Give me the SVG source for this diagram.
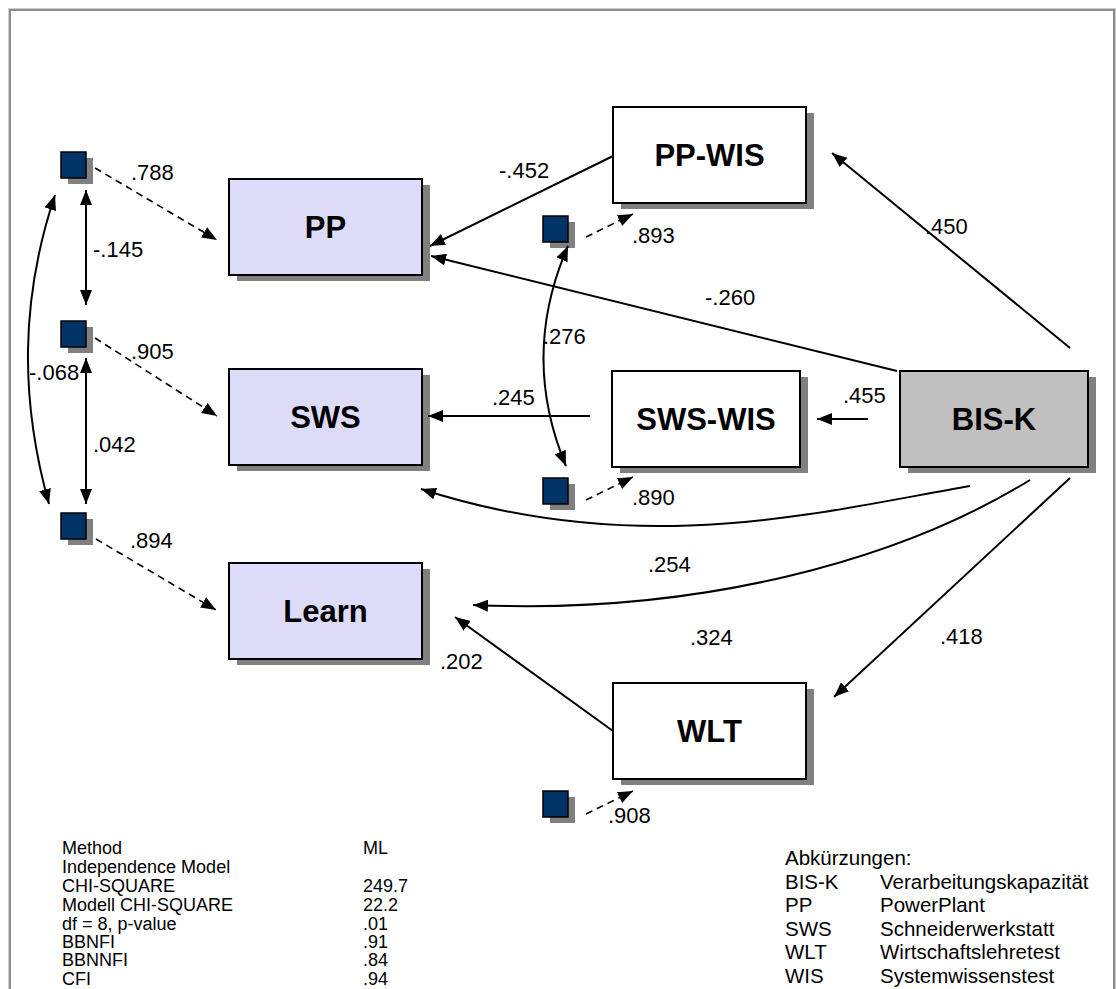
<svg xmlns="http://www.w3.org/2000/svg" width="1116" height="989" viewBox="0 0 1116 989">
  <style>
    .box { stroke: #000; stroke-width: 2; }
    .shadow { fill: #808080; }
    .obs { fill: #dcdcf8; }
    .mid { fill: #ffffff; }
    .src { fill: #c0c0c0; }
    .err { fill: #003366; stroke: #000; stroke-width: 1.5; }
    .name { font-family: "Liberation Sans", Arial, sans-serif; font-weight: bold; font-size: 31px; text-anchor: middle; fill: #000; }
    .coef { font-family: "Liberation Sans", Arial, sans-serif; font-size: 22px; fill: #000; }
    .note { font-family: "Liberation Sans", Arial, sans-serif; font-size: 18px; fill: #000; }
    .abbr { font-family: "Liberation Sans", Arial, sans-serif; font-size: 20.5px; fill: #000; }
    .path { fill: none; stroke: #000; stroke-width: 2; }
    .dash { fill: none; stroke: #000; stroke-width: 1.6; stroke-dasharray: 7 5; }
  </style>
  <defs>
    <marker id="ah" viewBox="0 0 15 12" refX="15" refY="6" markerWidth="15" markerHeight="12" markerUnits="userSpaceOnUse" orient="auto-start-reverse">
      <path d="M0,0 L15,6 L0,12 z" fill="#000"/>
    </marker>
  </defs>

  <rect width="1116" height="989" fill="#ffffff"/>
  <!-- outer frame -->
  <rect x="8.5" y="8.5" width="1107" height="1100" fill="none" stroke="#d0d0d0" stroke-width="1"/>
  <rect x="10" y="10" width="1104" height="1100" fill="none" stroke="#8c8c8c" stroke-width="2"/>

  <!-- error terms -->
  <g id="e-pp"><rect class="shadow" x="68" y="158" width="25" height="26"/><rect class="err" x="61" y="152" width="25" height="26"/></g>
  <g id="e-sws"><rect class="shadow" x="68" y="327" width="25" height="26"/><rect class="err" x="61" y="321" width="25" height="26"/></g>
  <g id="e-learn"><rect class="shadow" x="68" y="519" width="25" height="26"/><rect class="err" x="61" y="513" width="25" height="26"/></g>
  <g id="e-ppwis"><rect class="shadow" x="550" y="222" width="25" height="26"/><rect class="err" x="543" y="216" width="25" height="26"/></g>
  <g id="e-swswis"><rect class="shadow" x="550" y="484" width="25" height="26"/><rect class="err" x="543" y="478" width="25" height="26"/></g>
  <g id="e-wlt"><rect class="shadow" x="550" y="797" width="25" height="26"/><rect class="err" x="543" y="791" width="25" height="26"/></g>

  <!-- variables -->
  <g id="PP">
    <rect class="shadow" x="237" y="185" width="193" height="96"/>
    <rect class="box obs" x="229" y="179" width="193" height="96"/>
    <text class="name" x="325.5" y="238">PP</text>
  </g>
  <g id="SWS">
    <rect class="shadow" x="237" y="375" width="193" height="96"/>
    <rect class="box obs" x="229" y="369" width="193" height="96"/>
    <text class="name" x="325.5" y="428">SWS</text>
  </g>
  <g id="Learn">
    <rect class="shadow" x="237" y="569" width="193" height="96"/>
    <rect class="box obs" x="229" y="563" width="193" height="96"/>
    <text class="name" x="325.5" y="622">Learn</text>
  </g>
  <g id="PP-WIS">
    <rect class="shadow" x="621" y="113" width="193" height="96"/>
    <rect class="box mid" x="613" y="107" width="193" height="96"/>
    <text class="name" x="709.5" y="166">PP-WIS</text>
  </g>
  <g id="SWS-WIS">
    <rect class="shadow" x="620" y="377" width="188" height="96"/>
    <rect class="box mid" x="612" y="371" width="188" height="96"/>
    <text class="name" x="706" y="430">SWS-WIS</text>
  </g>
  <g id="BIS-K">
    <rect class="shadow" x="908" y="377" width="188" height="96"/>
    <rect class="box src" x="900" y="371" width="188" height="96"/>
    <text class="name" x="994" y="430">BIS-K</text>
  </g>
  <g id="WLT">
    <rect class="shadow" x="621" y="689" width="193" height="96"/>
    <rect class="box mid" x="613" y="683" width="193" height="96"/>
    <text class="name" x="709.5" y="742">WLT</text>
  </g>

  <!-- paths -->
  <g id="connectors">
    <path class="path" d="M613,156 L430,246" marker-end="url(#ah)"/>
    <path class="path" d="M897,371 L431,256" marker-end="url(#ah)"/>
    <path class="path" d="M1070,348 L832,153" marker-end="url(#ah)"/>
    <path class="path" d="M868,419 L817,419" marker-end="url(#ah)"/>
    <path class="path" d="M590,416 L428,416" marker-end="url(#ah)"/>
    <path class="path" d="M970,486 C820,512 640,560 421,489" marker-end="url(#ah)"/>
    <path class="path" d="M1030,480 C900,560 700,615 473,605" marker-end="url(#ah)"/>
    <path class="path" d="M1070,478 L834,697" marker-end="url(#ah)"/>
    <path class="path" d="M613,731 L455,617" marker-end="url(#ah)"/>

    <path class="dash" d="M95,168 L217,240" marker-end="url(#ah)"/>
    <path class="dash" d="M95,338 L217,416" marker-end="url(#ah)"/>
    <path class="dash" d="M96,539 L216,610" marker-end="url(#ah)"/>
    <path class="dash" d="M586,237 L633,214" marker-end="url(#ah)"/>
    <path class="dash" d="M586,500 L633,477" marker-end="url(#ah)"/>
    <path class="dash" d="M586,814 L633,791" marker-end="url(#ah)"/>

    <path class="path" d="M86,190 L86,305" marker-start="url(#ah)" marker-end="url(#ah)"/>
    <path class="path" d="M86,358 L86,504" marker-start="url(#ah)" marker-end="url(#ah)"/>
    <path class="path" d="M55,195 C20,300 20,400 49,504" marker-start="url(#ah)" marker-end="url(#ah)"/>
    <path class="path" d="M568,246 Q520,356 566,466" marker-start="url(#ah)" marker-end="url(#ah)"/>
  </g>

  <!-- coefficients -->
  <g id="coefficients">
    <text class="coef" x="131" y="180">.788</text>
    <text class="coef" x="93" y="257">-.145</text>
    <text class="coef" x="131" y="359">.905</text>
    <text class="coef" x="93" y="452">.042</text>
    <text class="coef" x="130" y="548">.894</text>
    <text class="coef" x="29" y="380">-.068</text>
    <text class="coef" x="499" y="178">-.452</text>
    <text class="coef" x="632" y="243">.893</text>
    <text class="coef" x="925" y="234">.450</text>
    <text class="coef" x="705" y="305">-.260</text>
    <text class="coef" x="543" y="344">.276</text>
    <text class="coef" x="492" y="405">.245</text>
    <text class="coef" x="843" y="403">.455</text>
    <text class="coef" x="632" y="505">.890</text>
    <text class="coef" x="648" y="572">.254</text>
    <text class="coef" x="690" y="645">.324</text>
    <text class="coef" x="940" y="644">.418</text>
    <text class="coef" x="440" y="669">.202</text>
    <text class="coef" x="608" y="823">.908</text>
  </g>

  <!-- fit statistics -->
  <g id="fit" class="note">
    <text x="62" y="854">Method</text><text x="363" y="854">ML</text>
    <text x="62" y="873">Independence Model</text>
    <text x="62" y="892">CHI-SQUARE</text><text x="363" y="892">249.7</text>
    <text x="62" y="911">Modell CHI-SQUARE</text><text x="363" y="911">22.2</text>
    <text x="62" y="930">df = 8, p-value</text><text x="363" y="930">.01</text>
    <text x="62" y="948">BBNFI</text><text x="363" y="948">.91</text>
    <text x="62" y="966">BBNNFI</text><text x="363" y="966">.84</text>
    <text x="62" y="985">CFI</text><text x="363" y="985">.94</text>
  </g>

  <!-- abbreviations -->
  <g id="legend" class="abbr">
    <text x="785" y="865">Abkürzungen:</text>
    <text x="785" y="889">BIS-K</text><text x="880" y="889">Verarbeitungskapazität</text>
    <text x="785" y="912">PP</text><text x="880" y="912">PowerPlant</text>
    <text x="785" y="936">SWS</text><text x="880" y="936">Schneiderwerkstatt</text>
    <text x="785" y="959">WLT</text><text x="880" y="959">Wirtschaftslehretest</text>
    <text x="785" y="983">WIS</text><text x="880" y="983">Systemwissenstest</text>
  </g>
</svg>
